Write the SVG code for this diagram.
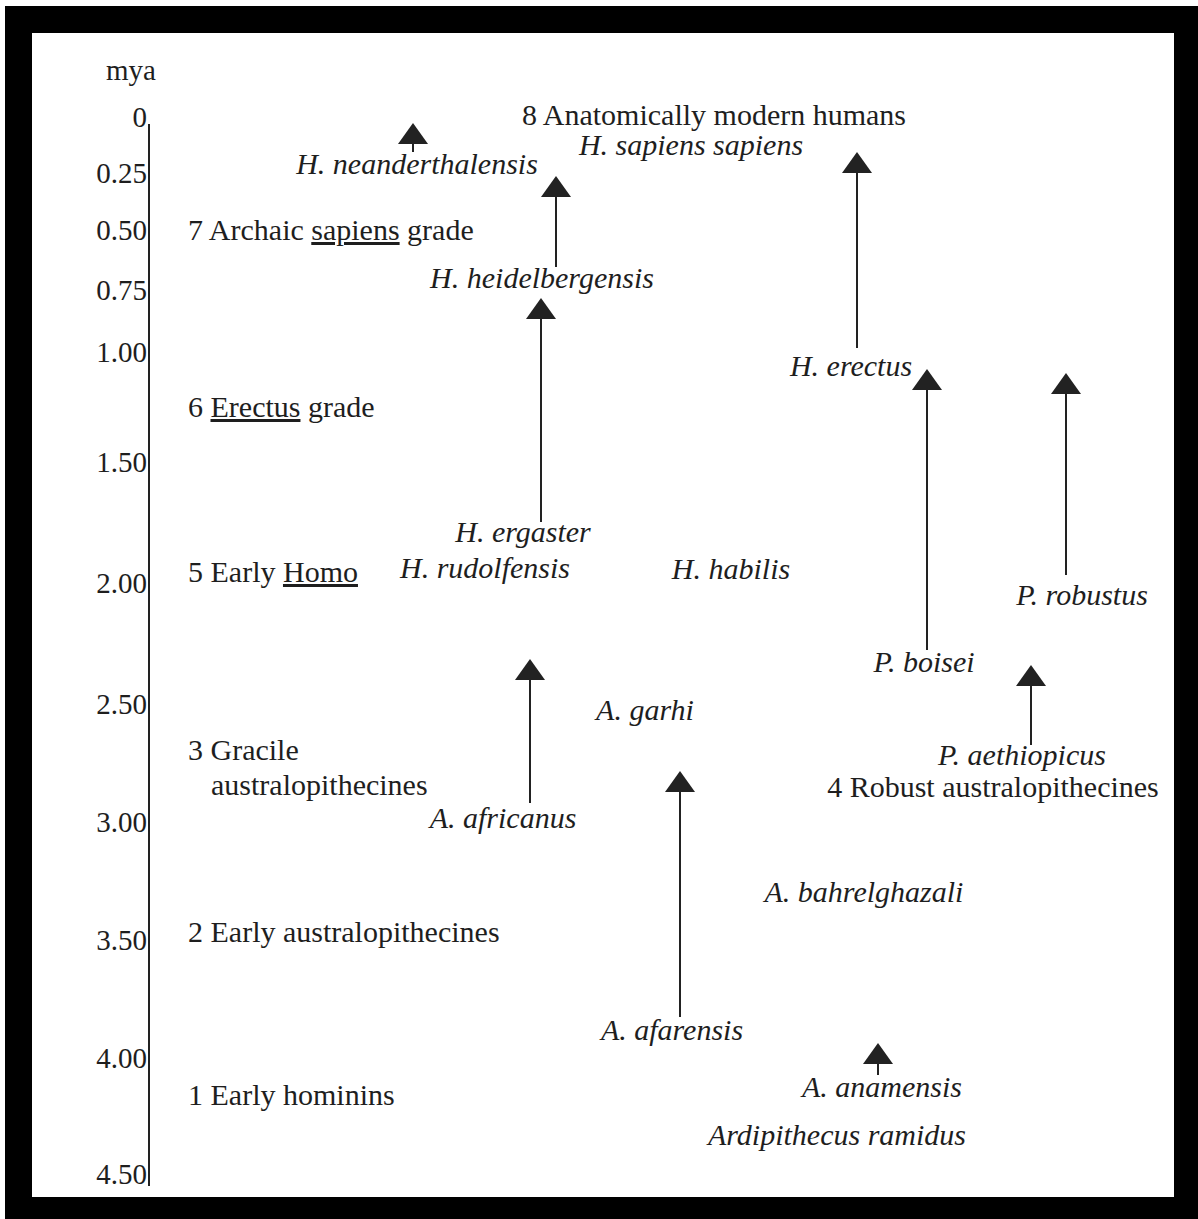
<svg xmlns="http://www.w3.org/2000/svg" width="1198" height="1219" viewBox="0 0 1198 1219">
<style>
  text { font-family: "Liberation Serif", "Times New Roman", serif; font-size: 30px; fill: #1e1e1e; }
  .it { font-style: italic; }
  .tick { text-anchor: end; font-size: 29px; }
  .mid { text-anchor: middle; }
  .conn line { stroke: #222; stroke-width: 2; fill: none; }
  .ul { text-decoration: underline; }
</style>
<defs>
  <marker id="head" markerUnits="userSpaceOnUse" viewBox="0 0 21 30" markerWidth="21" markerHeight="30" refX="0" refY="15" orient="auto">
    <path d="M0,0 L21,15 L0,30 Z" fill="#222"/>
  </marker>
</defs>
<rect x="0" y="0" width="1198" height="1219" fill="#ffffff"/>
<rect x="5" y="6" width="1193" height="1213" fill="#000000"/>
<rect x="32" y="33" width="1142" height="1164" fill="#ffffff"/>

<g id="axis">
  <line x1="149" y1="124" x2="149" y2="1186" stroke="#222" stroke-width="2"/>
  <text x="131" y="80" class="mid" style="font-size:29px">mya</text>
  <text x="147" y="127" class="tick">0</text>
  <text x="147" y="183" class="tick">0.25</text>
  <text x="147" y="240" class="tick">0.50</text>
  <text x="147" y="300" class="tick">0.75</text>
  <text x="147" y="362" class="tick">1.00</text>
  <text x="147" y="472" class="tick">1.50</text>
  <text x="147" y="593" class="tick">2.00</text>
  <text x="147" y="714" class="tick">2.50</text>
  <text x="147" y="832" class="tick">3.00</text>
  <text x="147" y="950" class="tick">3.50</text>
  <text x="147" y="1068" class="tick">4.00</text>
  <text x="147" y="1184" class="tick">4.50</text>
</g>

<g id="grades">
  <g id="grade8"><text x="714" y="125" class="mid">8 Anatomically modern humans</text></g>
  <g id="grade7"><text x="188" y="240">7 Archaic <tspan class="ul">sapiens</tspan> grade</text></g>
  <g id="grade6"><text x="188" y="417">6 <tspan class="ul">Erectus</tspan> grade</text></g>
  <g id="grade5"><text x="188" y="582">5 Early <tspan class="ul">Homo</tspan></text></g>
  <g id="grade3"><text x="188" y="760">3 Gracile</text><text x="211" y="795">australopithecines</text></g>
  <g id="grade4"><text x="993" y="797" class="mid">4 Robust australopithecines</text></g>
  <g id="grade2"><text x="188" y="942">2 Early australopithecines</text></g>
  <g id="grade1"><text x="188" y="1105">1 Early hominins</text></g>
</g>

<g id="species">
  <g id="sapiens"><text x="691" y="155" class="it mid">H. sapiens sapiens</text></g>
  <g id="neanderthalensis"><text x="417" y="174" class="it mid">H. neanderthalensis</text></g>
  <g id="heidelbergensis"><text x="542" y="288" class="it mid">H. heidelbergensis</text></g>
  <g id="erectus"><text x="851" y="376" class="it mid">H. erectus</text></g>
  <g id="ergaster"><text x="523" y="542" class="it mid">H. ergaster</text></g>
  <g id="rudolfensis"><text x="485" y="578" class="it mid">H. rudolfensis</text></g>
  <g id="habilis"><text x="731" y="579" class="it mid">H. habilis</text></g>
  <g id="robustus"><text x="1082" y="605" class="it mid">P. robustus</text></g>
  <g id="boisei"><text x="924" y="672" class="it mid">P. boisei</text></g>
  <g id="garhi"><text x="645" y="720" class="it mid">A. garhi</text></g>
  <g id="aethiopicus"><text x="1022" y="765" class="it mid">P. aethiopicus</text></g>
  <g id="africanus"><text x="503" y="828" class="it mid">A. africanus</text></g>
  <g id="bahrelghazali"><text x="864" y="902" class="it mid">A. bahrelghazali</text></g>
  <g id="afarensis"><text x="672" y="1040" class="it mid">A. afarensis</text></g>
  <g id="anamensis"><text x="882" y="1097" class="it mid">A. anamensis</text></g>
  <g id="ramidus"><text x="837" y="1145" class="it mid">Ardipithecus ramidus</text></g>
</g>

<g id="connectors" class="conn">
  <line x1="413" y1="152" x2="413" y2="144" marker-end="url(#head)"/>
  <line x1="556" y1="267" x2="556" y2="197" marker-end="url(#head)"/>
  <line x1="541" y1="522" x2="541" y2="319" marker-end="url(#head)"/>
  <line x1="857" y1="348" x2="857" y2="173" marker-end="url(#head)"/>
  <line x1="927" y1="650" x2="927" y2="390" marker-end="url(#head)"/>
  <line x1="1066" y1="575" x2="1066" y2="394" marker-end="url(#head)"/>
  <line x1="530" y1="803" x2="530" y2="680" marker-end="url(#head)"/>
  <line x1="680" y1="1017" x2="680" y2="792" marker-end="url(#head)"/>
  <line x1="1031" y1="745" x2="1031" y2="686" marker-end="url(#head)"/>
  <line x1="878" y1="1075" x2="878" y2="1064" marker-end="url(#head)"/>
</g>
</svg>
